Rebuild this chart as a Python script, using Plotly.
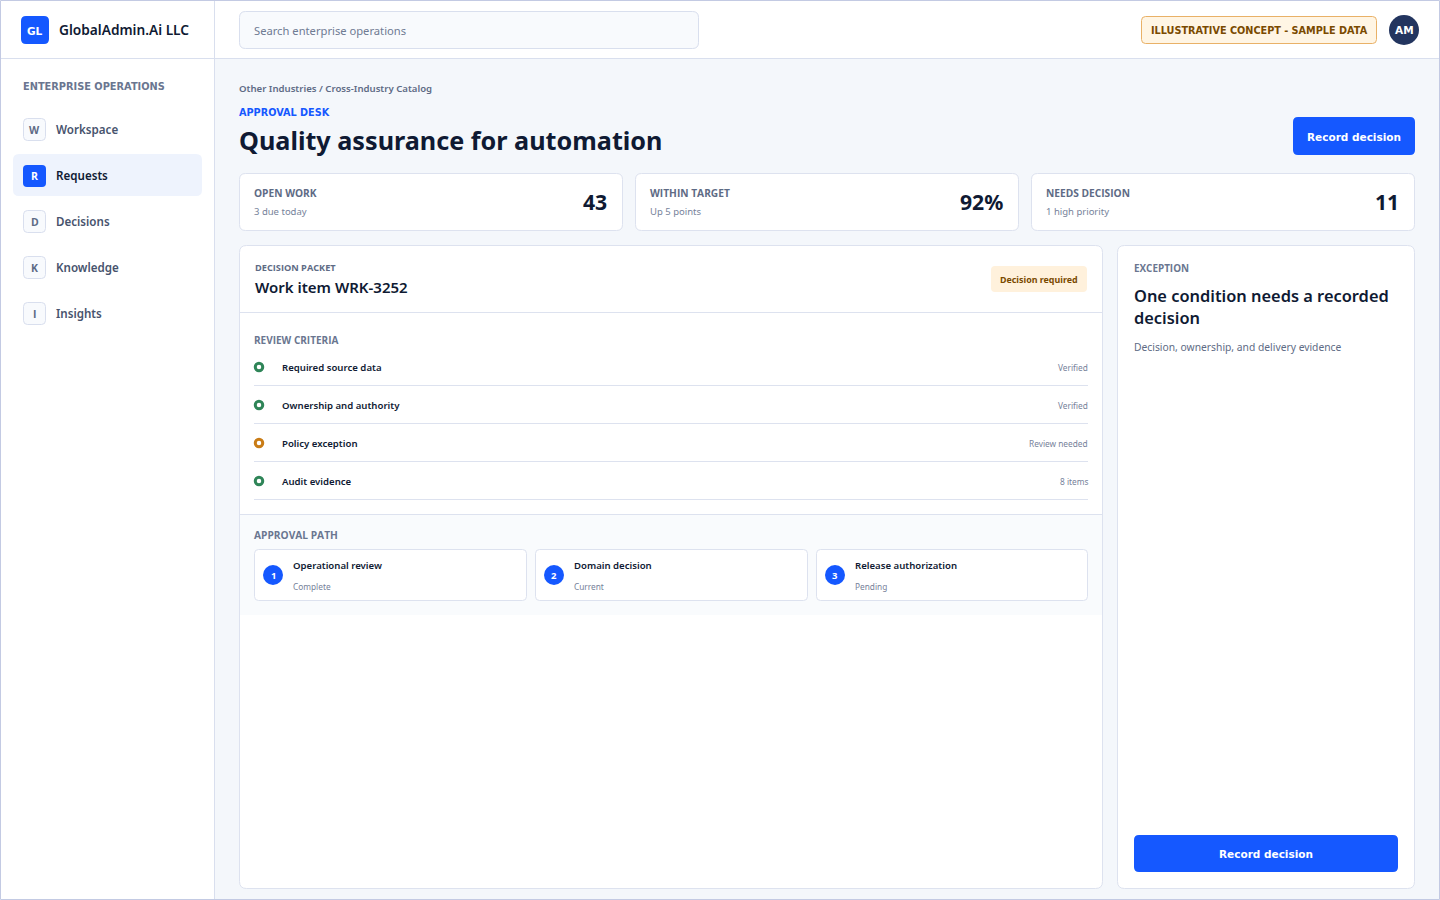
import plotly.graph_objects as go

BRAND = "GlobalAdmin.Ai LLC"
SEARCH_HINT = "Search enterprise operations"
BANNER = "ILLUSTRATIVE CONCEPT - SAMPLE DATA"
NAV_LETTERS = ["W", "R", "D", "K", "I"]
NAV_LABELS = ["Workspace", "Requests", "Decisions", "Knowledge", "Insights"]
KPI_LABELS = ["OPEN WORK", "WITHIN TARGET", "NEEDS DECISION"]
KPI_NOTES = ["3 due today", "Up 5 points", "1 high priority"]
KPI_VALUES = ["43", "92%", "11"]
CRITERIA = ["Required source data", "Ownership and authority", "Policy exception", "Audit evidence"]
CRITERIA_STATUS = ["Verified", "Verified", "Review needed", "8 items"]
STEP_TITLES = ["Operational review", "Domain decision", "Release authorization"]
STEP_STATES = ["Complete", "Current", "Pending"]

FONT = "Noto Sans"
WIDE = "DejaVu Sans"
CAPS = "Open Sans"
BLUE = "#1558FF"
INK = "#0F1A33"
SLATE = "#5E6B85"
MUTED = "#76829A"
LINE = "#DDE2EF"
AMBER_TEXT = "#7A4A00"

shapes = []
notes = []


def box(x0, y0, x1, y1, r=0, fill="#FFFFFF", line=None, width=1):
    path = (f"M{x0 + r},{y0} L{x1 - r},{y0} Q{x1},{y0} {x1},{y0 + r} L{x1},{y1 - r} Q{x1},{y1} {x1 - r},{y1} "
            f"L{x0 + r},{y1} Q{x0},{y1} {x0},{y1 - r} L{x0},{y0 + r} Q{x0},{y0} {x0 + r},{y0} Z")
    shapes.append(dict(type="path", path=path, xref="x", yref="y", fillcolor=fill, layer="below",
                       line=dict(color=line or "rgba(0,0,0,0)", width=width if line else 0)))


def rule(x0, y0, x1, y1, color=LINE):
    shapes.append(dict(type="line", x0=x0, y0=y0, x1=x1, y1=y1, xref="x", yref="y", layer="below",
                       line=dict(color=color, width=1)))


def disc(cx, cy, r, fill):
    shapes.append(dict(type="circle", x0=cx - r, y0=cy - r, x1=cx + r, y1=cy + r, xref="x", yref="y",
                       fillcolor=fill, layer="below", line=dict(width=0)))


def text(x, y, s, size, color=INK, weight=400, anchor="left", family=FONT):
    # annotations land about a pixel off the browser layout
    if anchor == "left":
        x -= 1
    elif anchor == "right":
        x += 1
    if family != WIDE:
        y -= 0.7 if size > 12 else 0.2
    notes.append(dict(x=x, y=y, text=s, xref="x", yref="y", showarrow=False, xanchor=anchor, yanchor="middle",
                      borderpad=0, font=dict(family=family, size=size, color=color, weight=weight)))


# page frame
box(0, 0, 1440, 900, fill="#F4F7FB")
box(0, 0, 214.5, 900)
box(0, 0, 1440, 58.5)
rule(0, 58.5, 1440, 58.5, "#D9DFEE")
rule(214.5, 0, 214.5, 900, "#D9DFEE")

# top bar
box(21, 16, 49, 44, 5, BLUE)
text(35, 30.5, "GL", 10.5, "#FFFFFF", 700, "center", WIDE)
text(59, 30, BRAND, 13.7, INK, 600)
box(239.5, 11.5, 698.5, 48.5, 6, "#F8FAFD", "#D9DFEE")
text(254, 31, SEARCH_HINT, 11.2, "#6F7B93")
box(1141.5, 16.5, 1376.5, 43.5, 4, "#FFF5E4", "#E9B167")
text(1259, 30.5, BANNER, 9.7, AMBER_TEXT, 700, "center", WIDE)
disc(1404, 30, 15, "#23355F")
text(1404, 30, "AM", 10.5, "#FFFFFF", 700, "center", WIDE)

# sidebar
text(23, 86.5, "ENTERPRISE OPERATIONS", 9.8, "#6A7690", 700, family=WIDE)
for i, (letter, label) in enumerate(zip(NAV_LETTERS, NAV_LABELS)):
    cy = 130 + i * 46
    active = label == "Requests"
    if active:
        box(13, cy - 22, 202, cy + 20, 6, "#EEF3FD")
        box(23, cy - 11, 46, cy + 11, 4, BLUE)
    else:
        box(23.5, cy - 11.5, 45.5, cy + 10.5, 4, "#F8FAFD", "#D9DFEE")
    text(34.5, cy, letter, 10.5, "#FFFFFF" if active else SLATE, 700, "center", CAPS)
    text(56, cy, label, 11.6, INK if active else "#47536D", 600)

# page heading
text(239, 88.5, "Other Industries / Cross-Industry Catalog", 9.6, SLATE, 600)
text(239, 112.5, "APPROVAL DESK", 9.7, BLUE, 700, family=WIDE)
text(239, 141, "Quality assurance for automation", 25.2, INK, 700)
box(1293, 117, 1415, 155, 5, BLUE)
text(1354, 137, "Record decision", 10.5, "#FFFFFF", 700, "center", WIDE)

# kpi cards
for i in range(3):
    x0 = 239.5 + i * 396
    x1 = x0 + 383
    box(x0, 173.5, x1, 230.5, 6, "#FFFFFF", LINE)
    text(x0 + 14.5, 193.5, KPI_LABELS[i], 10.2, SLATE, 700, family=CAPS)
    text(x0 + 14.5, 211.5, KPI_NOTES[i], 9.5, MUTED)
    text(x1 - 15.5, 202, KPI_VALUES[i], 21.2, INK, 700, "right")

# left panel
box(239.5, 245.5, 1102.5, 888.5, 7, "#FFFFFF", LINE)
text(255, 267.5, "DECISION PACKET", 9.2, SLATE, 700, family=CAPS)
text(255, 288, "Work item WRK-3252", 15, INK, 600)
box(991, 266, 1087, 292, 4, "#FFF1DC")
text(1039, 280, "Decision required", 8.9, AMBER_TEXT, 700, "center")
rule(240, 312.5, 1102, 312.5)

text(254, 340.5, "REVIEW CRITERIA", 10, "#6A7690", 700, family=CAPS)
for i, (name, status) in enumerate(zip(CRITERIA, CRITERIA_STATUS)):
    cy = 367.5 + i * 38
    text(282, cy, name, 9.6, INK, 600)
    text(1088, cy, status, 8.3, MUTED, 400, "right")
    rule(254, cy + 18, 1088, cy + 18)

# approval path section
shapes.append(dict(type="rect", x0=240, x1=1102, y0=515, y1=615, xref="x", yref="y", layer="below",
                   fillcolor="#F9FBFD", line=dict(width=0)))
rule(240, 514.5, 1102, 514.5)
text(254, 535.5, "APPROVAL PATH", 10.2, "#6A7690", 700, family=CAPS)
step_x = [254.5, 535.5, 816.5]
for i in range(3):
    x0 = step_x[i]
    box(x0, 549.5, x0 + 272 - (i == 2), 600.5, 4, "#FFFFFF", LINE)
    disc(x0 + 18.5, 575, 10, BLUE)
    text(x0 + 18.5, 575.5, str(i + 1), 9.5, "#FFFFFF", 700, "center")
    text(x0 + 38.5, 565.5, STEP_TITLES[i], 9.6, INK, 600)
    text(x0 + 38.5, 586.5, STEP_STATES[i], 8.3, MUTED)

# right panel
box(1117.5, 245.5, 1414.5, 888.5, 7, "#FFFFFF", LINE)
text(1133.5, 268.5, "EXCEPTION", 9.9, "#6A7690", 700, family=CAPS)
text(1133.5, 296, "One condition needs a recorded", 16.4, INK, 600)
text(1133.5, 318, "decision", 16.4, INK, 600)
text(1133.5, 347, "Decision, ownership, and delivery evidence", 10.3, SLATE)
box(1134, 835, 1398, 872, 5, BLUE)
text(1266, 854, "Record decision", 10.5, "#FFFFFF", 700, "center", WIDE)

# window edge
shapes.append(dict(type="rect", x0=0.5, y0=0.5, x1=1439.5, y1=899.5, xref="x", yref="y", layer="above",
                   line=dict(color="#C3CAE3", width=1)))

dot_x = [259] * len(CRITERIA)
dot_y = [367.0 + i * 38 for i in range(len(CRITERIA))]
dot_colors = ["#C97C16" if s == "Review needed" else "#2F8558" for s in CRITERIA_STATUS]

fig = go.Figure(go.Scatter(x=dot_x, y=dot_y, mode="markers", hoverinfo="skip", showlegend=False,
                           marker=dict(size=7.5, color="#FFFFFF", line=dict(color=dot_colors, width=3))))
fig.update_layout(width=1440, height=900, margin=dict(l=0, r=0, t=0, b=0), paper_bgcolor="#F4F7FB",
                  plot_bgcolor="rgba(0,0,0,0)", shapes=shapes, annotations=notes, showlegend=False,
                  font=dict(family=FONT),
                  xaxis=dict(range=[0, 1440], visible=False, fixedrange=True),
                  yaxis=dict(range=[900, 0], visible=False, fixedrange=True))
fig.write_html("out.html", config={"displayModeBar": False},
               post_script="document.body.style.margin='0';document.documentElement.style.overflow='hidden';")
